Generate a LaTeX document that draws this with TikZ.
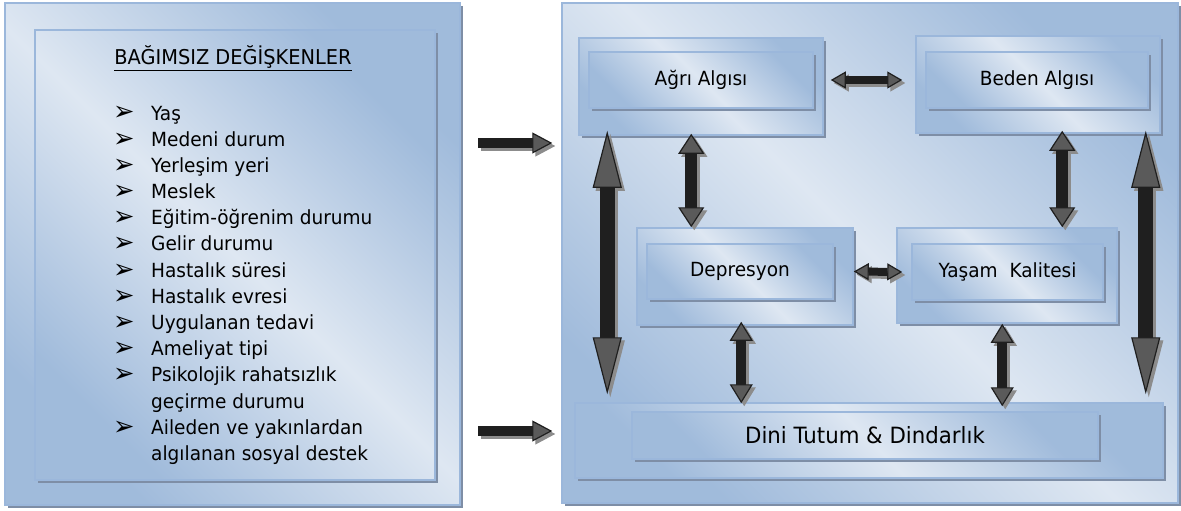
\documentclass[tikz,border=0pt]{standalone}
\usepackage{fontspec}
\setmainfont{DejaVu Sans}[FakeStretch=0.95]
\usetikzlibrary{arrows.meta,shadows}
\definecolor{bluelight}{HTML}{DEE7F2}
\definecolor{bluedark}{HTML}{95B3D7}
\definecolor{boxline}{HTML}{9BB7DB}
\definecolor{boxshade}{HTML}{7E8EA6}
\definecolor{tipgray}{HTML}{5A5A5A}
\definecolor{arrshade}{HTML}{8C8C8C}
\newcommand{\bul}{\raisebox{-1pt}{\fontsize{27}{26}\selectfont ➢}}

\begin{document}
\begin{tikzpicture}[x=1pt,y=-1pt,font=\fontsize{19.5}{26.2}\selectfont,
panel/.style={draw=boxline,line width=1.5pt,inner sep=0pt,top color=bluedark!85!bluelight,bottom color=bluedark!85!bluelight,
middle color=bluelight,shading angle=-45,drop shadow={shadow xshift=3pt,shadow yshift=-3pt,fill=boxshade,opacity=1}},
blkarr/.style n args={3}{line width=#1,draw=black!88,
arrows={Triangle[width=#2 0 0,length=#3 0 0,fill=tipgray,line width=1.2pt]-Triangle[width=#2 0 0,length=#3 0 0,fill=tipgray,line width=1.2pt]},
preaction={draw=arrshade,line width=#1,transform canvas={shift={(3pt,-3pt)}},
arrows={Triangle[width=#2 0 0,length=#3 0 0,fill=arrshade,line width=1.2pt]-Triangle[width=#2 0 0,length=#3 0 0,fill=arrshade,line width=1.2pt]}}},
inarr/.style={line width=10pt,draw=black!88,-{Triangle[width=21pt 0 0,length=20pt 0 0,fill=tipgray,line width=1.2pt]},
preaction={draw=arrshade,line width=10pt,transform canvas={shift={(3pt,-3pt)}},
-{Triangle[width=21pt 0 0,length=20pt 0 0,fill=arrshade,line width=1.2pt]}}}]
\useasboundingbox (0,0) rectangle (1181,511);
% independent variables
\node[panel,minimum width=455pt,minimum height=502pt] (leftout) at (232.5,254) {};
\node[panel,minimum width=400pt,minimum height=450pt] (leftin) at (235,255) {};
\node[anchor=base,font=\fontsize{20.4}{26}\selectfont] (title) at (233,65) {\underline{BAĞIMSIZ DEĞİŞKENLER}};
\node[anchor=base west,inner sep=0pt] (vars) at (113,120) {\begin{tabular}[t]{@{}p{38pt}@{}l@{}}
\bul & Yaş\\
\bul & Medeni durum\\
\bul & Yerleşim yeri\\
\bul & Meslek\\
\bul & Eğitim-öğrenim durumu\\
\bul & Gelir durumu\\
\bul & Hastalık süresi\\
\bul & Hastalık evresi\\
\bul & Uygulanan tedavi\\
\bul & Ameliyat tipi\\
\bul & Psikolojik rahatsızlık\\
 & geçirme durumu\\
\bul & Aileden ve yakınlardan\\
 & algılanan sosyal destek
\end{tabular}};
% dependent variables
\node[panel,minimum width=616pt,minimum height=500pt] (rightout) at (870,253) {};
\node[panel,minimum width=244pt,minimum height=97pt] (agriout) at (701,86.5) {};
\node[panel,minimum width=224pt,minimum height=56pt] (agri) at (701,80) {Ağrı Algısı};
\node[panel,minimum width=244pt,minimum height=97pt] (bedenout) at (1038,84.5) {};
\node[panel,minimum width=222pt,minimum height=56pt] (beden) at (1037,80) {Beden Algısı};
\node[panel,minimum width=216pt,minimum height=97pt] (depout) at (745,276.5) {};
\node[panel,minimum width=186pt,minimum height=55pt] (dep) at (740,271.5) {Depresyon};
\node[panel,minimum width=220pt,minimum height=95pt] (yasamout) at (1007,275.5) {};
\node[panel,minimum width=191pt,minimum height=56pt] (yasam) at (1007.5,272) {Yaşam~ Kalitesi};
\node[panel,minimum width=588pt,minimum height=75pt] (diniout) at (869,440.5) {};
\node[panel,minimum width=466pt,minimum height=47pt,font=\fontsize{22.4}{28}\selectfont] (dini) at (865,435.5) {Dini Tutum \& Dindarlık};
% arrows
\coordinate (in1) at (478,143);
\coordinate (in2) at (478,431);
\draw[inarr,shorten >=9pt] (in1) -- (in1 -| rightout.west);
\draw[inarr,shorten >=9pt] (in2) -- (in2 -| rightout.west);
\draw[blkarr={15pt}{29pt}{57pt}] ([xshift=29pt,yshift=5pt]agriout.south west) -- ([xshift=33pt,yshift=8pt]diniout.north west);
\draw[blkarr={15pt}{29pt}{57pt}] ([xshift=-15pt,yshift=3pt]bedenout.south east) -- ([xshift=-18pt,yshift=8pt]diniout.north east);
\draw[blkarr={12pt}{26pt}{20pt}] ([xshift=113pt,yshift=2pt]agriout.south west) -- ([xshift=55pt]depout.north west);
\draw[blkarr={12pt}{26pt}{20pt}] ([xshift=147pt,yshift=3pt]bedenout.south west) -- ([xshift=166pt]yasamout.north west);
\draw[blkarr={10pt}{23pt}{19pt}] ([xshift=105pt,yshift=4pt]depout.south west) -- ([xshift=167pt,yshift=-1pt]diniout.north west);
\draw[blkarr={10pt}{23pt}{19pt}] ([xshift=106pt]yasamout.south west) -- ([xshift=428pt,yshift=-4pt]diniout.north west);
\draw[blkarr={8pt}{17pt}{15pt},shorten <=7pt,shorten >=13pt] (agri.east -| agriout.east) -- (beden.west -| bedenout.west);
\draw[blkarr={8pt}{17pt}{15pt}] (dep.east -| depout.east) -- ([xshift=6pt]yasam.west -| yasamout.west);
\end{tikzpicture}
\end{document}
